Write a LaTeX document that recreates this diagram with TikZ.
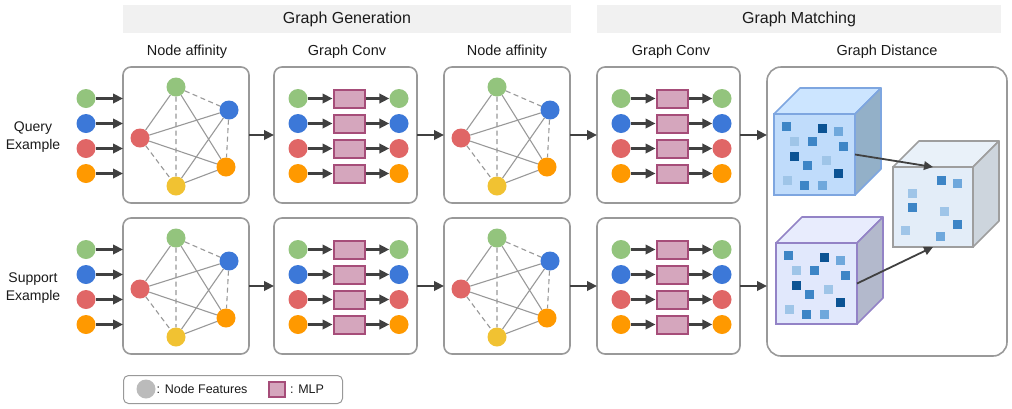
\documentclass[tikz,border=0pt]{standalone}
\usepackage{fontspec}
\setmainfont{Liberation Sans}
\usetikzlibrary{arrows.meta}
\definecolor{cgreen}{HTML}{93C47D}
\definecolor{cblue}{HTML}{3C78D8}
\definecolor{cred}{HTML}{E06666}
\definecolor{corange}{HTML}{FF9900}
\definecolor{cyellow}{HTML}{F1C232}
\definecolor{boxgray}{HTML}{999999}
\definecolor{arrgray}{HTML}{404040}
\definecolor{mlpfill}{HTML}{D5A6BD}
\definecolor{mlpline}{HTML}{A64D79}
\definecolor{hdr}{HTML}{F1F1F1}
\definecolor{legray}{HTML}{BBBBBB}
\definecolor{sqdark}{HTML}{0B5394}
\definecolor{sqmid}{HTML}{3D85C6}
\definecolor{sqlm}{HTML}{6FA8DC}
\definecolor{sqlight}{HTML}{9FC5E8}
\definecolor{bfront}{HTML}{C0DCFB}
\definecolor{btop}{HTML}{CCE5FF}
\definecolor{bside}{HTML}{93B0C8}
\definecolor{bline}{HTML}{7EA6E0}
\definecolor{pfront}{HTML}{E1E8FC}
\definecolor{ptop}{HTML}{E8ECFD}
\definecolor{pside}{HTML}{B3B9CC}
\definecolor{pline}{HTML}{9383C6}
\definecolor{gfront}{HTML}{E3EDF8}
\definecolor{gtop}{HTML}{E9F1F9}
\definecolor{gside}{HTML}{CDD5DD}
\definecolor{gline}{HTML}{9E9E9E}
\definecolor{txt}{HTML}{1A1A1A}

\newcommand\affbox[3]{%
  \node[box, minimum width=126pt, minimum height=136pt, anchor=north west] (#1) at (#2,#3) {};
  \node[fn, fill=cgreen]  (#1g) at (#2+53,#3+20) {};
  \node[fn, fill=cblue]   (#1b) at (#2+106,#3+43) {};
  \node[fn, fill=cred]    (#1r) at (#2+17,#3+71) {};
  \node[fn, fill=corange] (#1o) at (#2+103,#3+100) {};
  \node[fn, fill=cyellow] (#1y) at (#2+53,#3+119) {};
  \draw[gedge] (#1g)--(#1r) (#1g)--(#1o) (#1r)--(#1b) (#1r)--(#1o) (#1b)--(#1y) (#1y)--(#1o);
  \draw[gdash] (#1g)--(#1b) (#1g)--(#1y) (#1r)--(#1y) (#1b)--(#1o);
}
\newcommand\convbox[3]{%
  \node[box, minimum width=143pt, minimum height=136pt, anchor=north west] (#1) at (#2,#3) {};
  \foreach \c [count=\i] in {cgreen,cblue,cred,corange}{
    \node[fn, fill=\c] (#1i\i) at (#2+24, #3+6.5+25*\i) {};
    \node[mlp] (#1m\i) at (#2+75, #3+6.5+25*\i) {};
    \node[fn, fill=\c] (#1o\i) at (#2+125, #3+6.5+25*\i) {};
    \draw[arr] (#1i\i) -- (#1m\i);
    \draw[arr] (#1m\i) -- (#1o\i);
  }%
}
\newcommand\cubeshape[8]{% name, x, y, size, front, top, side, border
  \node[draw=#8, fill=#5, line width=1.6pt, minimum width=#4pt, minimum height=#4pt,
        anchor=north west, inner sep=0, outer sep=0] (#1) at (#2,#3) {};
  \filldraw[draw=#8, fill=#6, line width=1.6pt, line join=round]
    (#1.north west) -- ++(26,-26) -- ++(#4,0) -- (#1.north east) -- cycle;
  \filldraw[draw=#8, fill=#7, line width=1.6pt, line join=round]
    (#1.north east) -- ++(26,-26) -- ++(0,#4) -- (#1.south east) -- cycle;
}

\begin{document}
\begin{tikzpicture}[x=1pt,y=-1pt, font=\fontsize{14}{18}\selectfont, text=txt,
  box/.style={draw=boxgray, line width=1.6pt, rounded corners=8pt, inner sep=0, outer sep=0, fill=white},
  fn/.style={circle, inner sep=0, minimum size=19pt},
  arr/.style={draw=arrgray, line width=2.4pt, -{Triangle[length=10pt,width=9.5pt]}},
  thinarr/.style={draw=arrgray, line width=1.8pt, -{Triangle[length=9pt,width=8.5pt]}},
  gedge/.style={draw=boxgray, line width=1.1pt},
  gdash/.style={gedge, dash pattern=on 5pt off 3.5pt},
  mlp/.style={draw=mlpline, fill=mlpfill, line width=2pt, minimum width=31pt, minimum height=18pt, inner sep=0},
  lbl/.style={inner sep=0, font=\fontsize{14.5}{18}\selectfont},
  hdrs/.style={fill=hdr, minimum height=28pt, inner sep=0, font=\fontsize{16}{18}\selectfont}]
\useasboundingbox (0,0) rectangle (1012,408);

% headers
\node[hdrs, minimum width=448pt] (hgen) at (347,19) {Graph Generation};
\node[hdrs, minimum width=404pt] (hmat) at (799,19) {Graph Matching};

% column labels
\node[lbl] (l1) at (187,52) {Node affinity};
\node[lbl] (l2) at (347,52) {Graph Conv};
\node[lbl] (l3) at (507,52) {Node affinity};
\node[lbl] (l4) at (671,52) {Graph Conv};
\node[lbl] (l5) at (887,52) {Graph Distance};

% row labels
\node[align=center, inner sep=0] (qlab) at (33,137) {Query\\Example};
\node[align=center, inner sep=0] (slab) at (33,288) {Support\\Example};

% boxes
\affbox{q1}{123}{67}
\convbox{q2}{274}{67}
\affbox{q3}{444}{67}
\convbox{q4}{597}{67}
\affbox{s1}{123}{218}
\convbox{s2}{274}{218}
\affbox{s3}{444}{218}
\convbox{s4}{597}{218}

% inputs
\foreach \c [count=\i] in {cgreen,cblue,cred,corange}{
  \node[fn, fill=\c] (qin\i) at (86, 73.5+25*\i) {};
  \draw[arr] (qin\i) -- (qin\i -| q1.west);
  \node[fn, fill=\c] (sin\i) at (86, 224.5+25*\i) {};
  \draw[arr] (sin\i) -- (sin\i -| s1.west);
}

% big box
\node[box, minimum width=240pt, minimum height=289pt, anchor=north west, rounded corners=14pt] (big) at (767,67) {};

% between boxes
\draw[arr] (q1.east) -- (q2.west);
\draw[arr] (q2.east) -- (q3.west);
\draw[arr] (q3.east) -- (q4.west);
\draw[arr] (q4.east) -- (q4.east -| big.west);
\draw[arr] (s1.east) -- (s2.west);
\draw[arr] (s2.east) -- (s3.west);
\draw[arr] (s3.east) -- (s4.west);
\draw[arr] (s4.east) -- (s4.east -| big.west);

% cubes
\cubeshape{bc}{774}{114}{81}{bfront}{btop}{bside}{bline}
\cubeshape{pc}{776}{243}{81}{pfront}{ptop}{pside}{pline}
\cubeshape{gc}{893}{167}{80}{gfront}{gtop}{gside}{gline}
\foreach \dx/\dy/\c in {12/12/sqmid,48/14/sqdark,64/17/sqlm,20/27/sqlight,38/27/sqmid,69/32/sqmid,20/42/sqdark,33/51/sqmid,52/46/sqlight,64/59/sqdark,13/66/sqlight,30/71/sqmid,48/71/sqlm}{
  \fill[\c] (774+\dx-4.5,114+\dy-4.5) rectangle ++(9,9);
  \fill[\c] (776+\dx-4.5,243+\dy-4.5) rectangle ++(9,9);
}
\foreach \dx/\dy/\c in {48/13/sqmid,64/16/sqlm,19/26/sqlight,19/40/sqmid,51/44/sqlight,64/57/sqmid,12/63/sqlight,47/69/sqlm}{
  \fill[\c] (893+\dx-4.5,167+\dy-4.5) rectangle ++(9,9);
}
\draw[thinarr] (bc.east) -- (gc.north);
\draw[thinarr] (pc.east) -- (gc.south);

% legend
\node[draw=boxgray, line width=1pt, rounded corners=5pt, minimum width=219pt, minimum height=28pt, anchor=north west, inner sep=0] (leg) at (123,375) {};
\node[circle, fill=legray, minimum size=19pt, inner sep=0] (legc) at (146,389) {};
\node[anchor=west, font=\fontsize{12.5}{14}\selectfont, inner sep=0] (legt1) at (156.5,389) {: Node Features};
\node[mlp, minimum width=16pt, minimum height=15pt] (legm) at (277,389) {};
\node[anchor=west, font=\fontsize{12.5}{14}\selectfont, inner sep=0] (legt2) at (290,389) {: MLP};
\end{tikzpicture}
\end{document}
